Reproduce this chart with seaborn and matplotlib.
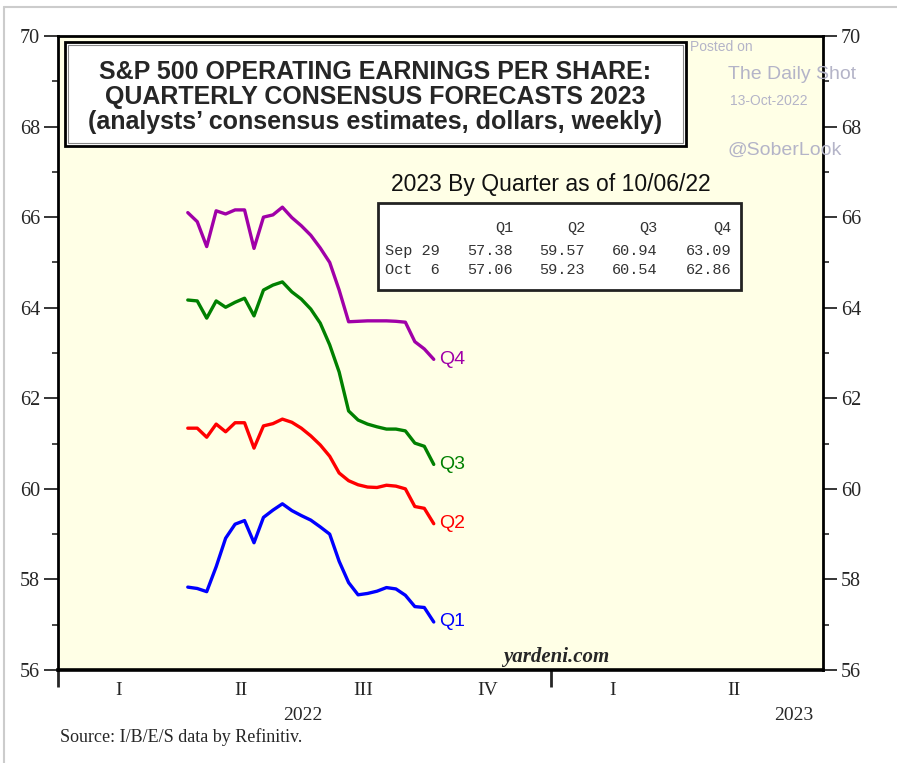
import numpy as np
import pandas as pd
import matplotlib
matplotlib.use('Agg')
import matplotlib.pyplot as plt
from matplotlib.patches import Rectangle
from matplotlib.lines import Line2D
from matplotlib.ticker import MultipleLocator
import matplotlib.dates as mdates
import seaborn as sns

# weekly consensus forecasts, Apr 7 .. Oct 6 2022
weeks = pd.date_range('2022-04-07', '2022-10-06', freq='7D')

q1 = [57.83, 57.80, 57.73, 58.28, 58.91, 59.22, 59.30, 58.81, 59.37, 59.53,
      59.67, 59.52, 59.41, 59.31, 59.16, 59.00, 58.40, 57.93, 57.66, 57.69,
      57.74, 57.82, 57.79, 57.65, 57.40, 57.38, 57.06]
q2 = [61.34, 61.34, 61.14, 61.43, 61.26, 61.46, 61.46, 60.90, 61.39, 61.44,
      61.54, 61.47, 61.34, 61.17, 60.97, 60.72, 60.35, 60.18, 60.09, 60.04,
      60.03, 60.08, 60.06, 60.00, 59.61, 59.57, 59.23]
q3 = [64.17, 64.15, 63.77, 64.15, 64.01, 64.12, 64.21, 63.82, 64.39, 64.50,
      64.57, 64.35, 64.19, 63.97, 63.66, 63.18, 62.58, 61.72, 61.52, 61.43,
      61.37, 61.32, 61.32, 61.28, 61.01, 60.94, 60.54]
q4 = [66.10, 65.90, 65.35, 66.14, 66.07, 66.16, 66.16, 65.31, 66.00, 66.05,
      66.22, 65.99, 65.81, 65.60, 65.32, 65.00, 64.39, 63.69, 63.70, 63.71,
      63.71, 63.71, 63.70, 63.68, 63.25, 63.09, 62.86]

quarters = ['Q1', 'Q2', 'Q3', 'Q4']
colors = {'Q1': '#0000FF', 'Q2': '#FF0000', 'Q3': '#008000', 'Q4': '#A000A8'}

# table values
table_rows = ['Sep 29', 'Oct  6']
table_vals = [[57.38, 59.57, 60.94, 63.09],
              [57.06, 59.23, 60.54, 62.86]]

qtr_mid = ['2022-02-15', '2022-05-16', '2022-08-15', '2022-11-15', '2023-02-15', '2023-05-16']
qtr_lab = ['I', 'II', 'III', 'IV', 'I', 'II']

df = pd.DataFrame({
    'date': np.tile(weeks, 4),
    'quarter': np.repeat(quarters, len(weeks)),
    'eps': q1 + q2 + q3 + q4,
})

sns.set_style('ticks')
plt.rcParams['font.family'] = ['Liberation Serif', 'DejaVu Serif']
SANS = ['Liberation Sans', 'DejaVu Sans']
MONO = ['Liberation Mono', 'DejaVu Sans Mono']

fig = plt.figure(figsize=(8.97, 7.63), dpi=100)
ax = fig.add_axes([0.0647, 0.1219, 0.8528, 0.8309])
ax.set_facecolor('#FFFFE6')

sns.lineplot(data=df, x='date', y='eps', hue='quarter', palette=colors,
             linewidth=2.4, legend=False, ax=ax)

ax.set_xlim(pd.Timestamp('2022-01-01'), pd.Timestamp('2023-07-21'))
ax.set_ylim(56, 70)
ax.set_xlabel('')
ax.set_ylabel('')

# y axis both sides
ax.set_yticks(range(56, 71, 2))
ax.yaxis.set_minor_locator(MultipleLocator(1))
ax.tick_params(axis='y', which='major', direction='out', length=10, width=1.3,
               left=True, right=True, labelleft=True, labelright=True,
               labelsize=14.5, pad=3)
ax.tick_params(axis='y', which='minor', direction='out', length=4, width=1.2,
               left=True, right=True)

# x axis: year dividers only
ax.set_xticks([pd.Timestamp('2022-01-01'), pd.Timestamp('2023-01-01')])
ax.set_xticklabels([])
ax.tick_params(axis='x', which='major', direction='out', length=12, width=2)
ax.xaxis.set_minor_locator(plt.NullLocator())

for s in ax.spines.values():
    s.set_linewidth(2)
    s.set_color('black')
ax.spines['bottom'].set_linewidth(2.6)

xt = ax.get_xaxis_transform()
for d, lab in zip(qtr_mid, qtr_lab):
    ax.text(mdates.date2num(pd.Timestamp(d)), -0.033, lab, transform=xt,
            ha='center', va='center', fontsize=14)
ax.text(mdates.date2num(pd.Timestamp('2022-07-01')), -0.072, '2022', transform=xt,
        ha='center', va='center', fontsize=14)
ax.text(mdates.date2num(pd.Timestamp('2023-06-29')), -0.072, '2023', transform=xt,
        ha='center', va='center', fontsize=14)

# line labels
for q, vals in zip(quarters, [q1, q2, q3, q4]):
    ax.text(mdates.date2num(weeks[-1] + pd.Timedelta(days=4)), vals[-1], q,
            color=colors[q], fontsize=14, family=SANS, ha='left', va='center')

# title box
ax.add_patch(Rectangle((0.0092, 0.8265), 0.8118, 0.164, transform=ax.transAxes,
                       facecolor='white', edgecolor='black', lw=2, zorder=5))
ax.add_patch(Rectangle((0.0131, 0.8312), 0.8040, 0.1546, transform=ax.transAxes,
                       fill=False, edgecolor='#888888', lw=0.8, zorder=6))
ax.text(0.415, 0.9038,
        'S&P 500 OPERATING EARNINGS PER SHARE:\nQUARTERLY CONSENSUS FORECASTS 2023\n'
        '(analysts\u2019 consensus estimates, dollars, weekly)',
        transform=ax.transAxes, ha='center', va='center', fontsize=18,
        fontweight='bold', family=SANS, linespacing=1.05, zorder=7)

# table
ax.text(0.6444, 0.765, '2023 By Quarter as of 10/06/22', transform=ax.transAxes,
        ha='center', va='center', fontsize=16.5, family=SANS, color='#111111')
ax.add_patch(Rectangle((0.4183, 0.5994), 0.4745, 0.1372, transform=ax.transAxes,
                       facecolor='white', edgecolor='#222222', lw=2, zorder=5))
col_x = [0.5948, 0.6889, 0.7830, 0.8810]
row_y = [0.6609, 0.6309]
for cx, q in zip(col_x, quarters):
    ax.text(cx, 0.6972, q, transform=ax.transAxes, ha='right', va='center',
            fontsize=11, family=MONO, color='#333333', zorder=7)
for ry, lab, vals in zip(row_y, table_rows, table_vals):
    ax.text(0.4275, ry, lab, transform=ax.transAxes, ha='left', va='center',
            fontsize=11, family=MONO, color='#333333', zorder=7)
    for cx, v in zip(col_x, vals):
        ax.text(cx, ry, f'{v:.2f}', transform=ax.transAxes, ha='right', va='center',
                fontsize=11, family=MONO, color='#333333', zorder=7)

# watermark
wm = '#b4b4c8'
ax.text(0.826, 0.9826, 'Posted on', transform=ax.transAxes, ha='left', va='center',
        fontsize=10, family=SANS, color=wm, zorder=8)
ax.text(0.8758, 0.940, 'The Daily Shot', transform=ax.transAxes, ha='left', va='center',
        fontsize=14, family=SANS, color=wm, zorder=8)
ax.text(0.878, 0.8975, '13-Oct-2022', transform=ax.transAxes, ha='left', va='center',
        fontsize=10, family=SANS, color=wm, zorder=8)
ax.text(0.8758, 0.820, '@SoberLook', transform=ax.transAxes, ha='left', va='center',
        fontsize=14, family=SANS, color=wm, zorder=8)

ax.text(0.651, 0.0205, 'yardeni.com', transform=ax.transAxes, ha='center', va='center',
        fontsize=15, fontweight='bold', fontstyle='italic')

fig.text(0.0669, 0.034, 'Source: I/B/E/S data by Refinitiv.', ha='left', va='center',
         fontsize=13)

# light frame around the picture
fig.add_artist(Line2D([0.005, 0.005], [0.0, 0.991], transform=fig.transFigure,
                      color='#cccccc', lw=1.5))
fig.add_artist(Line2D([0.005, 1.0], [0.991, 0.991], transform=fig.transFigure,
                      color='#cccccc', lw=1.5))

fig.savefig('out.png', dpi=100)
